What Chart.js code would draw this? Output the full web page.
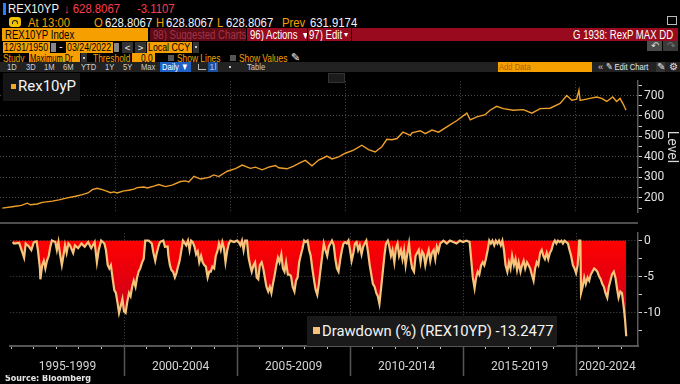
<!DOCTYPE html>
<html>
<head>
<meta charset="utf-8">
<script src="https://cdn.jsdelivr.net/npm/chart.js@4.4.1/dist/chart.umd.min.js"></script>
<style>
  html, body { margin: 0; padding: 0; background: #000; }
  #wrap { position: relative; width: 680px; height: 384px; overflow: hidden; background: #000;
          font-family: "Liberation Sans", Arial, sans-serif; }
  .a { position: absolute; white-space: nowrap; line-height: 1; box-sizing: border-box; overflow: hidden; }
  .n { display: inline-block; transform: scaleX(0.8); transform-origin: 0 50%; }
  .ns { display: inline-block; transform: scaleX(0.72); transform-origin: 0 50%; }
  .nw { display: inline-block; transform: scaleX(0.87); transform-origin: 0 50%; }
  .nr { display: inline-block; transform: scaleX(0.8); transform-origin: 100% 50%; }
  .t1 { font-size: 13px; }
  .t2 { font-size: 12px; }
  .t3 { font-size: 11px; }
  .t4 { font-size: 10.5px; }
  .t5 { font-size: 9.5px; }
  .or { color: #f5a000; }
  .wh { color: #f2f2f2; }
  .gr { color: #cfcfcf; }
  .fld { background: #f5a000; color: #000; }
  .red { background: #9a0a1e; color: #fff; }
  canvas { display: block; }
</style>
</head>
<body>
<div id="wrap">
  <!-- row 1 -->
  <div class="a" style="left:3px;top:3px;width:3px;height:12px;background:#2a7fff"></div>
  <div class="a t1 wh" style="left:8px;top:2px"><span class="nw">REX10YP</span></div>
  <div class="a t1" style="left:64px;top:2px;color:#ff3b4e"><span class="nw">↓ 628.8067</span></div>
  <div class="a t1" style="left:137px;top:2px;color:#ff3b4e"><span class="nw">-3.1107</span></div>
  <div class="a" style="left:667px;top:16px;width:10px;height:9px;border:1px solid #bbb"></div>

  <!-- row 2 -->
  <div class="a" style="left:9px;top:17px;width:12px;height:10px;background:#f2c200;border-radius:3px"></div>
  <div class="a" style="left:12px;top:20px;width:6px;height:4px;border:1px solid #222;border-bottom:none;border-radius:4px 4px 0 0"></div>
  <div class="a t1 or" style="left:28px;top:16px"><span class="nw">At 13:00</span></div>
  <div class="a t1 or" style="left:94px;top:16px"><span class="nw">O</span></div>
  <div class="a t1 wh" style="left:105px;top:16px"><span class="nw">628.8067</span></div>
  <div class="a t1 or" style="left:156px;top:16px"><span class="nw">H</span></div>
  <div class="a t1 wh" style="left:166px;top:16px"><span class="nw">628.8067</span></div>
  <div class="a t1 or" style="left:217px;top:16px"><span class="nw">L</span></div>
  <div class="a t1 wh" style="left:226px;top:16px"><span class="nw">628.8067</span></div>
  <div class="a t1 or" style="left:282px;top:16px"><span class="nw">Prev</span></div>
  <div class="a t1 wh" style="left:310px;top:16px"><span class="nw">631.9174</span></div>

  <!-- row 3 -->
  <div class="a fld t2" style="left:2px;top:28px;width:146px;height:13px;padding:1px 0 0 3px"><span class="n">REX10YP Index</span></div>
  <div class="a t2" style="left:150px;top:28px;width:96px;height:13px;background:#5c0a16;color:#a53346;padding:1px 0 0 3px"><span class="n">98) Suggested Charts</span></div>
  <div class="a t2 red" style="left:247px;top:28px;width:60px;height:13px;padding:1px 0 0 3px"><span class="n">96) Actions &nbsp;▾</span></div>
  <div class="a t2 red" style="left:308px;top:28px;width:36px;height:13px;padding:1px 0 0 1px"><span class="n">97) Edit</span></div>
  <div class="a red" style="left:343px;top:28px;width:8px;height:13px;font-size:8px;padding:3px 0 0 1px">▾</div>
  <div class="a t2 red" style="left:352px;top:28px;width:326px;height:13px;text-align:right;padding:1px 5px 0 0"><span class="nr">G 1938: RexP MAX DD</span></div>

  <!-- row 4 -->
  <div class="a fld t3" style="left:3px;top:42px;width:47px;height:11px;padding:0 0 0 1px"><span class="n">12/31/1950</span></div>
  <div class="a" style="left:51px;top:43px;width:5px;height:9px;background:#888"></div>
  <div class="a t3 wh" style="left:59px;top:41px">-</div>
  <div class="a fld t3" style="left:66px;top:42px;width:47px;height:11px;padding:0 0 0 1px"><span class="n">03/24/2022</span></div>
  <div class="a" style="left:114px;top:43px;width:5px;height:9px;background:#888"></div>
  <div class="a t5 wh" style="left:122px;top:42px;width:11px;height:11px;background:#333;text-align:center;padding-top:1px">&lt;</div>
  <div class="a t5 wh" style="left:135px;top:42px;width:11px;height:11px;background:#333;text-align:center;padding-top:1px">&gt;</div>
  <div class="a fld t3" style="left:147px;top:42px;width:45px;height:11px;padding:0 0 0 1px"><span class="n">Local CCY</span></div>
  <div class="a" style="left:193px;top:42px;width:6px;height:11px;background:#333"></div>
  <div class="a" style="left:195px;top:46px;width:2px;height:2px;background:#ccc"></div>
  <div class="a t5" style="left:647px;top:41px;width:15px;height:10px;background:#4c4c4c;color:#ddd;text-align:center">↶</div>
  <div class="a t5" style="left:663px;top:41px;width:15px;height:10px;background:#3a3a3a;color:#777;text-align:center">↷</div>

  <!-- row 5 -->
  <div class="a t4 or" style="left:3px;top:53px"><span class="n">Study</span></div>
  <div class="a fld t4" style="left:29px;top:53px;width:51px;height:10px;padding:0 0 0 1px"><span class="ns">Maximum Dr</span></div>
  <div class="a" style="left:81px;top:53px;width:6px;height:10px;background:#333"></div>
  <div class="a" style="left:83px;top:57px;width:2px;height:2px;background:#ccc"></div>
  <div class="a t4 or" style="left:93px;top:53px"><span class="n">Threshold</span></div>
  <div class="a fld t4" style="left:132px;top:53px;width:23px;height:10px;text-align:right;padding:0 2px 0 0"><span class="nr">0.0</span></div>
  <div class="a" style="left:168px;top:55px;width:6px;height:6px;background:#555"></div>
  <div class="a t4 or" style="left:177px;top:53px"><span class="n">Show Lines</span></div>
  <div class="a" style="left:230px;top:55px;width:6px;height:6px;background:#555"></div>
  <div class="a t4 or" style="left:239px;top:53px"><span class="n">Show Values</span></div>
  <div class="a t4 wh" style="left:291px;top:52px">✎</div>

  <!-- row 6 -->
  <div class="a" style="left:0;top:62px;width:680px;height:10px;background:#222"></div>
  <div class="a t5 gr" style="left:7px;top:62px"><span class="n">1D</span></div>
  <div class="a t5 gr" style="left:26px;top:62px"><span class="n">3D</span></div>
  <div class="a t5 gr" style="left:44px;top:62px"><span class="n">1M</span></div>
  <div class="a t5 gr" style="left:63px;top:62px"><span class="n">6M</span></div>
  <div class="a t5 gr" style="left:81px;top:62px"><span class="n">YTD</span></div>
  <div class="a t5 gr" style="left:105px;top:62px"><span class="n">1Y</span></div>
  <div class="a t5 gr" style="left:123px;top:62px"><span class="n">5Y</span></div>
  <div class="a t5 gr" style="left:141px;top:62px"><span class="n">Max</span></div>
  <div class="a t5" style="left:160px;top:62px;width:31px;height:10px;background:#2160c4;color:#fff;padding-left:2px"><span class="n">Daily ▼</span></div>
  <div class="a" style="left:198px;top:64px;width:8px;height:6px;border-left:1px solid #bbb;border-bottom:1px solid #bbb"></div>
  <div class="a t5" style="left:208px;top:62px;width:10px;height:10px;background:#1b4f9c;color:#9cc3ff;text-align:center">1l</div>
  <div class="a" style="left:229px;top:66px;width:2px;height:2px;background:#ccc"></div>
  <div class="a t5 gr" style="left:247px;top:62px"><span class="n">Table</span></div>
  <div class="a t5" style="left:498px;top:62px;width:94px;height:10px;background:#f5a000;color:#a86200;padding-left:1px"><span class="n">Add Data</span></div>
  <div class="a t5 gr" style="left:598px;top:62px">«</div>
  <div class="a t5" style="left:606px;top:62px;color:#e6e6e6"><span class="n">✎ Edit Chart</span></div>
  <div class="a t5" style="left:656px;top:62px;width:9px;height:10px;background:#333;color:#e6e6e6;text-align:center">✎</div>
  <div class="a t5" style="left:669px;top:62px;color:#e6e6e6">⚙</div>

  <!-- charts -->
  <div class="a" style="left:0;top:72px;width:680px;height:150px"><canvas id="levelChart" width="680" height="150"></canvas></div>
  <div class="a" style="left:0;top:222px;width:638px;height:2px;background:#4d4d4d"></div>
  <div class="a" style="left:0;top:224px;width:680px;height:152px"><canvas id="ddChart" width="680" height="152"></canvas></div>

  <!-- legends -->
  <div class="a" style="left:3px;top:73px;width:77px;height:28px;background:#151515"></div>
  <div class="a" style="left:11px;top:84px;width:5px;height:5px;background:#f5a623"></div>
  <div class="a" style="left:18px;top:79px;font-family:Roboto,sans-serif;font-size:15px;color:#f4f4f4">Rex10yP</div>
  <div class="a" style="left:328px;top:73px;width:17px;height:10px;background:#1c1c1c;border:1px solid #333"></div>

  <div class="a" style="left:307px;top:316px;width:250px;height:30px;background:#1a1a1a"></div>
  <div class="a" style="left:313px;top:327px;width:7px;height:7px;background:#f6c27a"></div>
  <div class="a" style="left:322px;top:324px;font-family:Roboto,sans-serif;font-size:14.8px;color:#f4f4f4">Drawdown (%) (REX10YP) -13.2477</div>

  <div class="a" style="left:5px;top:375px;font-family:'DejaVu Sans',sans-serif;font-size:8px;font-weight:bold;color:#e6e6e6">Source: Bloomberg</div>
</div>

<script>
// ------- Data -------
const levelDates = [
  1995.07, 1995.58, 1995.90, 1996.16, 1996.30, 1996.59, 1996.81, 1997.25, 1997.54, 1997.90,
  1998.26, 1998.55, 1998.80, 1998.99, 1999.20, 1999.42, 1999.64, 1999.78, 1999.93, 2000.07,
  2000.36, 2000.58, 2000.80, 2000.94, 2001.23, 2001.38, 2001.67, 2001.88, 2002.17, 2002.46,
  2002.83, 2003.04, 2003.19, 2003.41, 2003.70, 2004.06, 2004.28, 2004.49, 2004.86, 2005.22,
  2005.51, 2005.87, 2006.09, 2006.38, 2006.67, 2006.96, 2007.10, 2007.46, 2007.75, 2008.04,
  2008.26, 2008.55, 2008.84, 2009.06, 2009.20, 2009.42, 2009.71, 2010.00, 2010.36, 2010.72,
  2011.01, 2011.30, 2011.59, 2011.81, 2012.03, 2012.25, 2012.51, 2012.83, 2012.90, 2013.26,
  2013.48, 2013.77, 2014.06, 2014.42, 2014.86, 2015.29, 2015.44, 2015.72, 2016.09, 2016.30,
  2016.59, 2016.88, 2017.32, 2017.75, 2018.12, 2018.48, 2018.91, 2019.35, 2019.64, 2019.86,
  2020.07, 2020.17, 2020.22, 2020.65, 2020.94, 2021.16, 2021.38, 2021.64, 2021.81, 2021.96,
  2022.10, 2022.17, 2022.22
];
const levelValues = [
  150, 158, 163, 174, 166, 170, 178, 184, 190, 200,
  208, 216, 224, 240, 247, 240, 232, 225, 229, 224,
  234, 237, 243, 250, 253, 248, 257, 265, 255, 262,
  280, 283, 278, 305, 292, 300, 312, 304, 330, 343,
  360, 344, 350, 337, 350, 358, 347, 342, 355, 372,
  383, 357, 385, 396, 404, 390, 400, 418, 433, 457,
  436, 424, 450, 486, 484, 490, 521, 505, 518, 528,
  514, 531, 521, 547, 578, 614, 581, 596, 607, 628,
  647, 636, 628, 631, 614, 636, 638, 661, 700, 677,
  682, 726, 676, 686, 693, 686, 671, 693, 671, 686,
  657, 640, 628.8
];

const drawdownDates = [
  1995.07, 1995.14, 1995.36, 1995.58, 1995.65, 1995.80, 1995.90, 1996.01, 1996.13, 1996.19,
  1996.28, 1996.30, 1996.38, 1996.45, 1996.52, 1996.59, 1996.67, 1996.74, 1996.81, 1996.96,
  1997.03, 1997.10, 1997.17, 1997.25, 1997.32, 1997.39, 1997.46, 1997.54, 1997.61, 1997.75,
  1997.83, 1997.97, 1998.12, 1998.26, 1998.41, 1998.55, 1998.70, 1998.80, 1998.88, 1998.99,
  1999.13, 1999.20, 1999.28, 1999.35, 1999.42, 1999.49, 1999.57, 1999.64, 1999.71, 1999.78,
  1999.86, 1999.93, 2000.00, 2000.07, 2000.14, 2000.22, 2000.29, 2000.36, 2000.43, 2000.51,
  2000.58, 2000.65, 2000.72, 2000.80, 2000.87, 2000.94, 2001.09, 2001.23, 2001.30, 2001.38,
  2001.45, 2001.52, 2001.59, 2001.74, 2001.81, 2001.93,
  2001.96, 2002.03, 2002.10, 2002.17, 2002.25, 2002.32, 2002.39, 2002.46, 2002.54, 2002.61,
  2002.75, 2002.83, 2002.90, 2002.97, 2003.04, 2003.12, 2003.19, 2003.26, 2003.33, 2003.41,
  2003.48, 2003.55, 2003.62, 2003.70, 2003.77, 2003.84, 2003.91, 2003.99, 2004.06, 2004.13,
  2004.20, 2004.28, 2004.35, 2004.42, 2004.49, 2004.57, 2004.64, 2004.71, 2004.86, 2005.00,
  2005.07, 2005.15, 2005.22, 2005.29, 2005.36, 2005.44, 2005.51, 2005.58, 2005.65, 2005.73,
  2005.80, 2005.87, 2005.94, 2006.01, 2006.09, 2006.16, 2006.23, 2006.30, 2006.38, 2006.45,
  2006.52, 2006.59, 2006.67, 2006.74, 2006.81, 2006.88, 2006.96, 2007.03, 2007.10, 2007.17,
  2007.25, 2007.32, 2007.39, 2007.46, 2007.54, 2007.61, 2007.68, 2007.75, 2007.83, 2007.90,
  2007.97, 2008.04, 2008.12, 2008.19, 2008.26, 2008.33, 2008.41, 2008.48, 2008.55, 2008.62,
  2008.70, 2008.77, 2008.84,
  2008.91, 2008.99, 2009.06, 2009.13, 2009.20, 2009.28, 2009.35, 2009.42, 2009.49, 2009.57,
  2009.64, 2009.71, 2009.78, 2009.86, 2009.93, 2010.00, 2010.07, 2010.15, 2010.22, 2010.29,
  2010.36, 2010.43, 2010.51, 2010.58, 2010.65, 2010.72, 2010.80, 2010.87, 2010.94, 2011.01,
  2011.09, 2011.16, 2011.23, 2011.30, 2011.38, 2011.45, 2011.52, 2011.59, 2011.67, 2011.74,
  2011.81, 2011.88, 2011.96, 2012.03, 2012.10, 2012.17, 2012.25, 2012.32, 2012.39, 2012.46,
  2012.54, 2012.61, 2012.68, 2012.75, 2012.83, 2012.90, 2012.97, 2013.04, 2013.12, 2013.19,
  2013.26, 2013.33, 2013.41, 2013.48, 2013.55, 2013.62, 2013.70, 2013.77, 2013.84, 2013.91,
  2013.99, 2014.06, 2014.13, 2014.28, 2014.42, 2014.57, 2014.71, 2014.86, 2015.00, 2015.15,
  2015.29, 2015.36, 2015.43, 2015.51, 2015.58, 2015.65, 2015.72, 2015.80, 2015.87,
  2015.94, 2016.01, 2016.09, 2016.16, 2016.23, 2016.30, 2016.38, 2016.45, 2016.52, 2016.59,
  2016.67, 2016.74, 2016.81, 2016.88, 2016.96, 2017.03, 2017.10, 2017.17, 2017.25, 2017.32,
  2017.39, 2017.46, 2017.54, 2017.61, 2017.68, 2017.75, 2017.83, 2017.90, 2017.97, 2018.04,
  2018.12, 2018.19, 2018.26, 2018.33, 2018.41, 2018.48, 2018.55, 2018.62, 2018.70, 2018.77,
  2018.84, 2018.91, 2018.99, 2019.06, 2019.13, 2019.20, 2019.28, 2019.35, 2019.42, 2019.49,
  2019.57, 2019.64, 2019.71, 2019.78, 2019.86, 2019.93, 2020.00, 2020.07, 2020.14, 2020.19,
  2020.22, 2020.29, 2020.36, 2020.43, 2020.51, 2020.58, 2020.65, 2020.72, 2020.80, 2020.87,
  2020.94, 2021.01, 2021.09, 2021.16, 2021.23, 2021.30, 2021.38, 2021.45, 2021.52, 2021.59,
  2021.67, 2021.74, 2021.81, 2021.88, 2021.96, 2022.03, 2022.10, 2022.13, 2022.17, 2022.22
];
const drawdownValues = [
  -0.2, -0.4, -0.3, -2.35, -0.4, -0.85, -1.3, -0.2, -0.1, -1.3,
  -3.85, -5.35, -3.4, -2.8, -3.85, -2.8, -2.1, -0.85, 0, -0.2,
  -1.3, -0.2, -1.9, -3.4, -2.1, -0.65, -1.7, -0.4, -0.65, -1.7,
  -0.65, -1.05, -0.4, -0.85, -0.2, -1.05, -0.2, -3.0, -1.3, 0,
  -0.4, -1.3, -3.4, -3.85, -3.4, -5.1, -6.85, -7.25, -8.55, -10.0,
  -9.0, -8.1, -9.8, -10.0, -8.55, -7.25, -7.7, -6.4, -5.55, -6.4,
  -5.1, -4.25, -3.85, -3.0, -2.55, 0, 0, -0.4, -1.7, -2.8,
  -1.7, -0.85, -0.2, 0, -0.85, -0.8,
  -2.0, -3.4, -4.1, -4.3, -5.1, -4.5, -3.6, -2.8, -1.3, 0,
  -0.65, 0, -1.3, 0, -0.2, -0.85, -1.9, -1.5, -3.0, -2.1,
  -3.0, -3.4, -3.6, -5.1, -4.3, -4.3, -3.6, -3.85, -2.1, -1.5,
  -0.4, -1.3, -0.2, -1.05, -3.0, -1.3, -0.4, 0, -0.2, 0,
  -0.2, -0.65, 0, -1.3, 0, 0, -2.35, -3.4, -4.3, -3.4,
  -3.0, -5.1, -5.35, -3.4, -3.0, -3.85, -5.1, -6.4, -7.05, -6.4,
  -7.25, -6.0, -4.7, -3.4, -2.35, -3.0, -1.9, -3.85, -4.3, -3.0,
  -4.7, -4.7, -4.9, -6.4, -7.05, -5.55, -5.1, -3.0, -1.9, -1.05,
  0, -0.2, 0, -1.3, -2.1, -3.85, -5.55, -6.85, -7.5, -6.0,
  -3.85, -2.1, -0.4,
  -1.3, -2.1, -0.85, -0.4, 0, -0.65, -2.55, -3.85, -4.3, -2.55,
  -1.3, -0.4, -0.2, -0.4, 0, -1.3, -2.8, -1.7, -0.4, -0.2,
  -1.3, -0.65, -1.9, -0.85, -0.4, 0, -1.7, -3.4, -4.7, -6.0,
  -6.4, -7.25, -7.7, -8.75, -6.4, -4.3, -2.1, -0.4, 0, -0.85,
  -2.1, -1.3, -3.0, -1.05, -0.4, -2.1, -1.3, -2.55, -1.3, -3.4,
  -1.7, -0.4, -2.55, -3.85, -4.3, -2.1, -1.7, -1.3, -3.0, -1.5,
  -1.9, -3.4, -2.1, -1.3, -2.8, -1.7, -1.3, -2.55, -0.85, -1.5,
  -0.4, -0.2, 0, -0.4, 0, -0.2, -0.4, 0, -0.2, 0,
  -0.2, -2.55, -5.1, -6.6, -5.1, -4.3, -4.7, -3.4, -3.0,
  -3.4, -2.55, -1.3, 0, -0.4, 0, -0.65, 0, -0.4, 0,
  -0.65, 0, -1.3, -3.4, -4.3, -3.0, -3.85, -2.1, -3.4, -2.55,
  -4.05, -3.0, -4.3, -3.4, -2.8, -3.85, -3.0, -3.4, -3.85, -4.7,
  -5.55, -3.85, -3.0, -3.4, -1.7, -1.3, -2.1, -2.55, -1.7, -2.55,
  -1.7, -1.3, -0.4, 0, -0.4, 0, -0.2, 0, -0.4, 0,
  -0.2, -0.4, -1.3, -2.1, -3.4, -3.85, -4.5, -3.4, 0, 0,
  -7.25, -6.4, -5.1, -6.0, -5.1, -5.55, -4.7, -4.3, -3.85, -4.05,
  -4.3, -4.9, -5.35, -6.0, -6.4, -7.25, -7.9, -6.4, -5.55, -4.7,
  -4.3, -5.1, -6.6, -7.9, -7.05, -7.25, -9.0, -9.8, -11.1, -13.2477
];

const periodStarts = [1995, 2000, 2005, 2010, 2015, 2020];
const periodLabels = ['1995-1999', '2000-2004', '2005-2009', '2010-2014', '2015-2019', '2020-2024'];
const levelTickLabels = [200, 300, 400, 500, 600, 700];
const levelMinorTicks = [150, 250, 350, 450, 550, 650, 750];
const drawdownTickLabels = [0, -5, -10];
const drawdownMinorTicks = [-2.5, -7.5, -12.5];

// ------- Layout constants -------
const X_MIN = 1994.97, X_MAX = 2022.74;
const AXIS_W = 42;
const GRID = '#4a4a4a';

Chart.defaults.font.family = 'Roboto, "Liberation Sans", sans-serif';
Chart.defaults.color = '#dcdcdc';

function pts(xs, ys) {
  return xs.map((x, i) => ({ x: x, y: ys[i] }));
}

const separators = periodStarts.slice(1);
const periodCenters = periodStarts.map(s => (s + Math.min(s + 5, X_MAX)) / 2);

// ------- Top: level -------
new Chart(document.getElementById('levelChart'), {
  type: 'line',
  data: {
    datasets: [{
      data: pts(levelDates, levelValues),
      borderColor: '#eea02a',
      borderWidth: 1.4,
      pointRadius: 0,
      tension: 0
    }]
  },
  options: {
    responsive: false,
    animation: false,
    layout: { padding: 0 },
    plugins: { legend: { display: false }, tooltip: { enabled: false } },
    scales: {
      x: {
        type: 'linear', min: X_MIN, max: X_MAX,
        afterBuildTicks: s => { s.ticks = separators.map(v => ({ value: v })); },
        afterFit: s => { s.height = 0; },
        ticks: { display: false },
        grid: { color: GRID, drawTicks: false },
        border: { display: false, dash: [1, 2] }
      },
      y: {
        position: 'right', min: 127, max: 770,
        afterBuildTicks: s => {
          s.ticks = levelTickLabels.concat(levelMinorTicks).sort((a, b) => a - b).map(v => ({ value: v }));
        },
        afterFit: s => { s.width = AXIS_W; },
        ticks: {
          autoSkip: false, padding: 2, color: '#e2e2e2', font: { size: 12 },
          callback: v => (levelTickLabels.includes(v) ? String(v) : '')
        },
        grid: {
          color: c => (levelTickLabels.includes(c.tick && c.tick.value) ? GRID : 'rgba(0,0,0,0)'),
          tickColor: '#d0d0d0', tickLength: 4
        },
        border: { display: true, color: '#5a5a5a', width: 1.5, dash: [1, 2] },
        title: { display: true, text: 'Level', color: '#d8d8d8', font: { size: 14 }, padding: 0 }
      }
    }
  }
});

// ------- Bottom: drawdown -------
const periodSeparatorPlugin = {
  id: 'periodSeparators',
  afterDraw(chart) {
    const c = chart.ctx, xs = chart.scales.x, area = chart.chartArea;
    c.save();
    c.strokeStyle = '#555';
    c.lineWidth = 1.5;
    separators.forEach(v => {
      const px = Math.round(xs.getPixelForValue(v)) + 0.5;
      c.beginPath();
      c.moveTo(px, area.bottom);
      c.lineTo(px, chart.height);
      c.stroke();
    });
    c.restore();
  }
};

const yearTicks = [];
for (let y = 1995; y <= 2022; y++) yearTicks.push(y);

new Chart(document.getElementById('ddChart'), {
  type: 'line',
  data: {
    datasets: [{
      data: pts(drawdownDates, drawdownValues),
      borderColor: '#f7c47c',
      borderWidth: 2.2,
      pointRadius: 0,
      tension: 0,
      fill: 'origin',
      backgroundColor: ctx => {
        const ch = ctx.chart;
        if (!ch.chartArea) return '#ff0000';
        const y0 = ch.scales.y.getPixelForValue(0);
        const y1 = ch.scales.y.getPixelForValue(-11);
        const g = ch.ctx.createLinearGradient(0, y0, 0, y1);
        g.addColorStop(0, '#ff0000');
        g.addColorStop(1, '#c4001e');
        return g;
      }
    }]
  },
  options: {
    responsive: false,
    animation: false,
    layout: { padding: 0 },
    plugins: { legend: { display: false }, tooltip: { enabled: false } },
    scales: {
      x: {
        type: 'linear', min: X_MIN, max: X_MAX,
        afterBuildTicks: s => {
          s.ticks = yearTicks.concat(periodCenters).sort((a, b) => a - b).map(v => ({ value: v }));
        },
        afterFit: s => { s.height = 30; },
        ticks: {
          autoSkip: false, maxRotation: 0, padding: 11, color: '#d4d4d4', font: { size: 12 },
          callback: v => {
            const i = periodCenters.indexOf(v);
            return i >= 0 ? periodLabels[i] : '';
          }
        },
        grid: {
          color: c => (separators.includes(c.tick && c.tick.value) ? GRID : 'rgba(0,0,0,0)'),
          tickColor: c => (yearTicks.includes(c.tick && c.tick.value) ? '#bdbdbd' : 'rgba(0,0,0,0)'),
          tickLength: 3
        },
        border: { display: true, color: '#555', width: 2, dash: [1, 2] }
      },
      y: {
        position: 'right', min: -14.6, max: 1.03,
        afterBuildTicks: s => {
          s.ticks = drawdownTickLabels.concat(drawdownMinorTicks).sort((a, b) => a - b).map(v => ({ value: v }));
        },
        afterFit: s => { s.width = AXIS_W; },
        ticks: {
          autoSkip: false, padding: 2, color: '#e2e2e2', font: { size: 12 },
          callback: v => (drawdownTickLabels.includes(v) ? String(v) : '')
        },
        grid: {
          color: c => (drawdownTickLabels.includes(c.tick && c.tick.value) ? GRID : 'rgba(0,0,0,0)'),
          tickColor: '#d0d0d0', tickLength: 4
        },
        border: { display: true, color: '#5a5a5a', width: 1.5, dash: [1, 2] }
      }
    }
  },
  plugins: [periodSeparatorPlugin]
});
</script>
</body>
</html>
